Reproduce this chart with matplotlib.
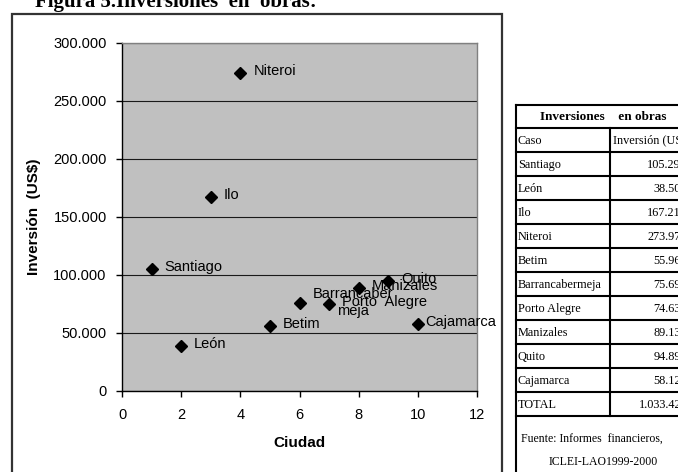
import matplotlib
matplotlib.use("Agg")
import matplotlib.pyplot as plt
from matplotlib.ticker import FuncFormatter

# ---------------- data ----------------
cities = ["Santiago", "León", "Ilo", "Niteroi", "Betim", "Barrancabermeja",
          "Porto Alegre", "Manizales", "Quito", "Cajamarca"]
point_labels = ["Santiago", "León", "Ilo", "Niteroi", "Betim", "Barrancaber\nmeja",
                "Porto  Alegre", "Manizales", "Quito", "Cajamarca"]
city_index = [1, 2, 3, 4, 5, 6, 7, 8, 9, 10]
investment = [105290, 38500, 167210, 273970, 55960, 75690, 74630, 89130, 94890, 58120]
total_investment = 1033420
x_ticks = [0, 2, 4, 6, 8, 10, 12]
y_ticks = [0, 50000, 100000, 150000, 200000, 250000, 300000]

W, H = 678, 472
fig = plt.figure(figsize=(W / 100, H / 100), dpi=100)
fig.patch.set_facecolor("white")

# overlay axes in pixel coordinates (for frame, title and table)
ov = fig.add_axes([0, 0, 1, 1], zorder=0)
ov.set_xlim(0, W)
ov.set_ylim(H, 0)
ov.axis("off")
ov.patch.set_alpha(0)

sans = ["Liberation Sans", "DejaVu Sans"]
serif = ["Liberation Serif", "DejaVu Serif"]

# title (cut at top)
ov.text(35, 7, "Figura 5.Inversiones  en  obras:", fontsize=15, fontweight="bold",
        family=serif, ha="left", va="baseline", clip_on=False)

# chart frame
ov.plot([12, 12, 502, 502], [H + 5, 14, 14, H + 5], color="#333333", lw=1.6,
        clip_on=False, solid_joinstyle="miter")

# ---------------- scatter plot ----------------
L, R, T, B = 122, 477, 43, 391
ax = fig.add_axes([L / W, (H - B) / H, (R - L) / W, (B - T) / H], zorder=2)
ax.set_facecolor("#c0c0c0")
ax.set_xlim(0, 12)
ax.set_ylim(0, 300000)
ax.set_xticks(x_ticks)
ax.set_yticks(y_ticks)
ax.yaxis.set_major_formatter(FuncFormatter(lambda v, p: f"{v:,.0f}".replace(",", ".")))
ax.grid(axis="y", color="#1a1a1a", lw=0.8)
ax.set_axisbelow(True)
for s in ["top", "right"]:
    ax.spines[s].set_color("#808080")
    ax.spines[s].set_linewidth(1.0)
for s in ["left", "bottom"]:
    ax.spines[s].set_color("black")
    ax.spines[s].set_linewidth(1.0)
ax.tick_params(direction="out", length=4, width=1, color="black", labelsize=10.5)
ax.tick_params(axis="x", pad=8)
ax.tick_params(axis="y", pad=7)
for lab in ax.get_xticklabels() + ax.get_yticklabels():
    lab.set_family(sans)

ax.plot(city_index, investment, linestyle="none", marker="D", markersize=6.5,
        color="black", zorder=3)

for xi, yi, lab in zip(city_index, investment, point_labels):
    if "\n" in lab:
        ax.annotate(lab, (xi, yi), xytext=(53, 1), textcoords="offset pixels",
                    ha="center", va="center", fontsize=10.5, family=sans,
                    linespacing=1.3, zorder=4)
    elif lab == "Cajamarca":
        ax.annotate(lab, (xi, yi), xytext=(7, 2), textcoords="offset pixels",
                    ha="left", va="center", fontsize=10.5, family=sans, zorder=4,
                    annotation_clip=False)
    else:
        ax.annotate(lab, (xi, yi), xytext=(13, 2), textcoords="offset pixels",
                    ha="left", va="center", fontsize=10.5, family=sans, zorder=4)

ax.set_xlabel("Ciudad", fontsize=11, fontweight="bold", family=sans, labelpad=10)
ax.set_ylabel("Inversión  (US$)", fontsize=11, fontweight="bold", family=sans, labelpad=9)

# ---------------- table ----------------
tl, tdiv, tr = 516, 610, 690
ttop = 105
hdr_h = 23
row_h = 24
rows = [("Caso", "Inversión (US$)")]
for c, v in zip(cities, investment):
    rows.append((c, f"{v / 1000:.2f}"))
tot_str = (f"{int(total_investment // 1000000)}."
           f"{int(total_investment // 1000) % 1000:03d}."
           f"{int(total_investment % 1000) // 10:02d}")
rows.append(("TOTAL", tot_str))

lw_t = 1.5
ys = [ttop, ttop + hdr_h] + [ttop + hdr_h + row_h * (i + 1) for i in range(len(rows))]
for y in ys:
    ov.plot([tl, tr], [y, y], color="black", lw=lw_t, clip_on=False)
ov.plot([tl, tl], [ttop, H + 5], color="black", lw=lw_t, clip_on=False)
ov.plot([tdiv, tdiv], [ttop + hdr_h, ys[-1]], color="black", lw=lw_t, clip_on=False)

ov.text(603, ttop + hdr_h / 2 + 1, "Inversiones    en obras", fontsize=9.5, fontweight="bold",
        family=serif, ha="center", va="center")
for i, (a, b) in enumerate(rows):
    yc = ttop + hdr_h + row_h * i + row_h / 2 + 1
    ov.text(518, yc, a, fontsize=8.8, family=serif, ha="left", va="center")
    if i == 0:
        ov.text(613, yc, b, fontsize=8.8, family=serif, ha="left", va="center", clip_on=False)
    else:
        ov.text(681, yc, b, fontsize=8.8, family=serif, ha="right", va="center", clip_on=False)

ov.text(592, 440, "Fuente: Informes  financieros,", fontsize=8.5, family=serif,
        ha="center", va="center")
ov.text(603, 462, "ICLEI-LAO1999-2000", fontsize=8.5, family=serif,
        ha="center", va="center")

fig.savefig("out.png", dpi=100)
